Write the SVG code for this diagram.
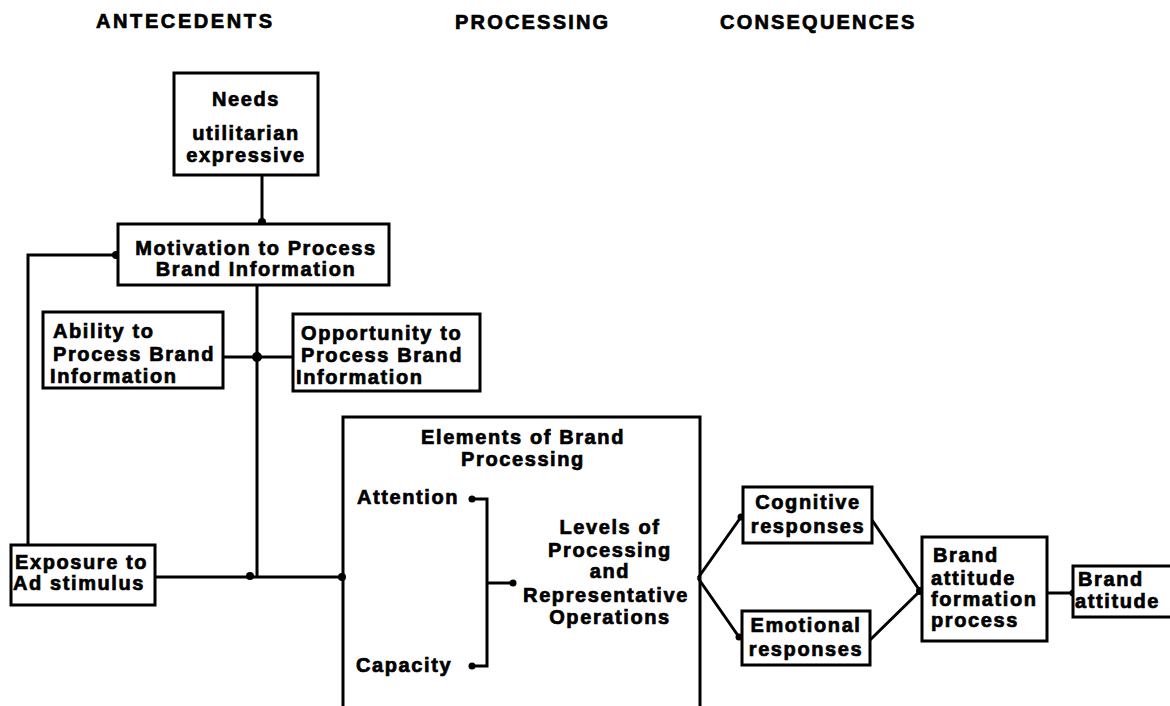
<svg xmlns="http://www.w3.org/2000/svg" width="1170" height="706" viewBox="0 0 1170 706">
<style>
text{font-family:"Liberation Sans",Arial,sans-serif;font-weight:bold;font-size:20px;fill:#000;stroke:#000;stroke-width:0.7;letter-spacing:1.6px}
.h{letter-spacing:2.2px}
.c{text-anchor:middle}
rect{fill:#fff;stroke:#000;stroke-width:3}
.ln{fill:none;stroke:#000;stroke-width:3}
.d{fill:#000}
</style>
<rect x="0" y="0" width="1170" height="706" style="stroke:none"/>
<g id="headers">
<text class="h" x="96" y="28" style="letter-spacing:2.6px">ANTECEDENTS</text>
<text class="h" x="455" y="29">PROCESSING</text>
<text class="h" x="720" y="29">CONSEQUENCES</text>
</g>
<g id="connectors">
<path class="ln" d="M262 175V222"/>
<circle class="d" cx="262" cy="222" r="4"/>
<path class="ln" d="M28 545V255H116"/>
<circle class="d" cx="116" cy="255" r="4"/>
<path class="ln" d="M257 285V576"/>
<path class="ln" d="M223 357H292"/>
<circle class="d" cx="257" cy="357" r="5"/>
<path class="ln" d="M155 577H342"/>
<circle class="d" cx="250" cy="576" r="4"/>
<circle class="d" cx="342" cy="577" r="4"/>
<path class="ln" d="M472 499H487V666H472"/>
<circle class="d" cx="472" cy="499" r="3.5"/>
<circle class="d" cx="472" cy="666" r="3.5"/>
<path class="ln" d="M487 583H513"/>
<circle class="d" cx="513" cy="583" r="3.5"/>
<path class="ln" d="M698 578L741 517M698 578L739 637"/>
<circle class="d" cx="741" cy="517" r="3.5"/>
<circle class="d" cx="739" cy="637" r="3.5"/>
<path class="ln" d="M872 520L920 591M870 640L920 591"/>
<circle class="d" cx="920" cy="591" r="4"/>
<path class="ln" d="M1047 593H1073"/>
<circle class="d" cx="1073" cy="593" r="3.5"/>
</g>
<g id="needs">
<rect x="174" y="73" width="144" height="102"/>
<text class="c" x="246" y="106">Needs</text>
<text class="c" x="246" y="140">utilitarian</text>
<text class="c" x="246" y="162">expressive</text>
</g>
<g id="motivation">
<rect x="118" y="224" width="271" height="61"/>
<text class="c" x="256" y="255">Motivation to Process</text>
<text class="c" x="256" y="276">Brand Information</text>
</g>
<g id="ability">
<rect x="43" y="312" width="180" height="76"/>
<text x="53" y="338">Ability to</text>
<text x="53" y="361">Process Brand</text>
<text x="50" y="383">Information</text>
</g>
<g id="opportunity">
<rect x="293" y="314" width="187" height="77"/>
<text x="301" y="340">Opportunity to</text>
<text x="301" y="362">Process Brand</text>
<text x="296" y="384">Information</text>
</g>
<g id="exposure">
<rect x="11" y="545" width="144" height="60"/>
<text x="15" y="569">Exposure to</text>
<text x="13" y="590">Ad stimulus</text>
</g>
<g id="elements">
<path class="ln" d="M343 710V417H700V710"/>
<text class="c" x="523" y="444">Elements of Brand</text>
<text class="c" x="523" y="466">Processing</text>
<text x="357" y="504">Attention</text>
<text x="356" y="672">Capacity</text>
<text class="c" x="610" y="534">Levels of</text>
<text class="c" x="610" y="557">Processing</text>
<text class="c" x="610" y="578">and</text>
<text class="c" x="606" y="602">Representative</text>
<text class="c" x="610" y="624">Operations</text>
</g>
<g id="cognitive">
<rect x="743" y="487" width="129" height="56"/>
<text class="c" x="808" y="509">Cognitive</text>
<text class="c" x="808" y="533">responses</text>
</g>
<g id="emotional">
<rect x="742" y="611" width="128" height="54"/>
<text class="c" x="806" y="632">Emotional</text>
<text class="c" x="806" y="656">responses</text>
</g>
<g id="formation">
<rect x="922" y="537" width="125" height="104"/>
<text x="933" y="562">Brand</text>
<text x="931" y="585">attitude</text>
<text x="931" y="606">formation</text>
<text x="931" y="627">process</text>
</g>
<g id="attitude">
<rect x="1073" y="566" width="100" height="51"/>
<text x="1078" y="586">Brand</text>
<text x="1075" y="608">attitude</text>
</g>
</svg>
